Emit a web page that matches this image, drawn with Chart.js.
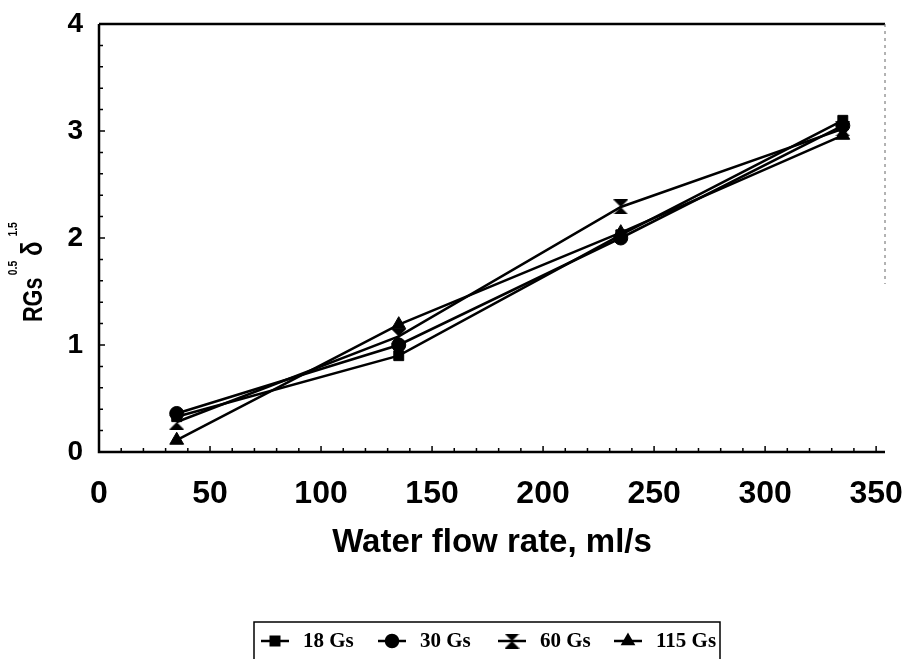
<!DOCTYPE html>
<html>
<head>
<meta charset="utf-8">
<title>Water flow rate</title>
<script src="https://cdn.jsdelivr.net/npm/chart.js@4"></script>
<style>
  html, body { margin: 0; padding: 0; background: #fff; }
  #wrap { width: 912px; height: 659px; position: relative; }
</style>
</head>
<body>
<div id="wrap"><canvas id="flowChart" width="912" height="659"></canvas></div>
<script>
// flow rate (ml/s) and the four field-strength series
const flowRate = [35, 135, 235, 335];
const gs18 = [0.33, 0.90, 2.03, 3.10];
const gs30 = [0.36, 1.00, 2.00, 3.05];
const gs60 = [0.28, 1.08, 2.29, 3.02];
const gs115 = [0.11, 1.19, 2.05, 2.96];
const seriesLabels = ["18 Gs", "30 Gs", "60 Gs", "115 Gs"];
const xTicks = [0, 50, 100, 150, 200, 250, 300, 350];
const yTicks = [0, 1, 2, 3, 4];

// hourglass marker for the 60 Gs series
function hourglass(size) {
  const c = document.createElement("canvas");
  c.width = size; c.height = size;
  const g = c.getContext("2d");
  g.fillStyle = "#000";
  g.beginPath();
  g.moveTo(0, 0); g.lineTo(size, 0); g.lineTo(size / 2, size / 2); g.closePath();
  g.moveTo(0, size); g.lineTo(size, size); g.lineTo(size / 2, size / 2); g.closePath();
  g.fill();
  return c;
}
const hourglassMark = hourglass(15);

function pts(values) {
  return flowRate.map((x, i) => ({ x, y: values[i] }));
}

const styles = [
  { pointStyle: "rect", pointRadius: 7 },
  { pointStyle: "circle", pointRadius: 7 },
  { pointStyle: hourglassMark, pointRadius: 7 },
  { pointStyle: "triangle", pointRadius: 8 }
];
const seriesData = [gs18, gs30, gs60, gs115];

// axes frame, inward ticks and minor ticks
const framePlugin = {
  id: "frame",
  afterDraw(chart) {
    const { ctx, chartArea: a, scales: { x, y } } = chart;
    ctx.save();
    ctx.strokeStyle = "#000";
    ctx.lineWidth = 2.5;
    ctx.beginPath();
    ctx.moveTo(a.left, a.top); ctx.lineTo(a.left, a.bottom); ctx.lineTo(a.right, a.bottom);
    ctx.moveTo(a.left, a.top); ctx.lineTo(a.right, a.top);
    ctx.stroke();
    ctx.lineWidth = 1;
    ctx.strokeStyle = "#666";
    ctx.setLineDash([3, 4]);
    ctx.beginPath();
    ctx.moveTo(a.right, a.top); ctx.lineTo(a.right, a.top + 260);
    ctx.stroke();
    ctx.setLineDash([]);
    ctx.strokeStyle = "#000";
    ctx.lineWidth = 1.5;
    ctx.beginPath();
    for (let v = 10; v <= 350; v += 10) {
      const px = x.getPixelForValue(v);
      const len = v % 50 === 0 ? 6 : 4;
      ctx.moveTo(px, a.bottom); ctx.lineTo(px, a.bottom - len);
    }
    for (let i = 1; i < 20; i++) {
      const v = i * 0.2;
      const py = y.getPixelForValue(v);
      const len = i % 5 === 0 ? 6 : 4;
      ctx.moveTo(a.left, py); ctx.lineTo(a.left + len, py);
    }
    ctx.stroke();
    ctx.restore();
  }
};

// rotated y title with superscripts: RGs^0.5 δ^1.5
const yTitlePlugin = {
  id: "yTitle",
  afterDraw(chart) {
    const ctx = chart.ctx;
    ctx.save();
    ctx.translate(42, 322);
    ctx.rotate(-Math.PI / 2);
    ctx.scale(0.8, 1);
    ctx.fillStyle = "#000";
    ctx.textBaseline = "alphabetic";
    ctx.textAlign = "left";
    const big = "bold 27px 'Liberation Sans', Arial, sans-serif";
    const small = "bold 13px 'Liberation Sans', Arial, sans-serif";
    let cx = 0;
    ctx.font = big;
    ctx.fillText("RGs", cx, 0);
    cx += ctx.measureText("RGs").width + 3;
    ctx.font = small;
    ctx.fillText("0.5", cx, -25);
    cx += ctx.measureText("0.5").width + 6;
    ctx.font = "bold 30px 'Liberation Sans', Arial, sans-serif";
    ctx.fillText("δ", cx, 0);
    cx += ctx.measureText("δ").width + 6;
    ctx.font = small;
    ctx.fillText("1.5", cx, -25);
    ctx.restore();
  }
};

// boxed legend under the chart
const legendPlugin = {
  id: "boxLegend",
  afterDraw(chart) {
    const ctx = chart.ctx;
    const boxLeft = 254, boxRight = 720, boxTop = 622;
    ctx.save();
    ctx.strokeStyle = "#000";
    ctx.lineWidth = 1.5;
    ctx.beginPath();
    ctx.moveTo(boxLeft, 659); ctx.lineTo(boxLeft, boxTop); ctx.lineTo(boxRight, boxTop); ctx.lineTo(boxRight, 659);
    ctx.stroke();
    const markX = [275, 392, 512, 628];
    const cy = 641;
    ctx.font = "bold 21px 'Liberation Serif', 'Times New Roman', serif";
    ctx.textBaseline = "middle";
    ctx.fillStyle = "#000";
    chart.data.datasets.forEach((ds, i) => {
      const mx = markX[i];
      ctx.lineWidth = 2.5;
      ctx.beginPath();
      ctx.moveTo(mx - 14, cy); ctx.lineTo(mx + 14, cy);
      ctx.stroke();
      const st = styles[i];
      Chart.helpers.drawPoint(ctx, {
        pointStyle: st.pointStyle, radius: 6, rotation: 0, borderWidth: 1
      }, mx, cy);
      ctx.fillText(ds.label, mx + 28, cy + 1);
    });
    ctx.restore();
  }
};

new Chart(document.getElementById("flowChart"), {
  type: "line",
  data: {
    datasets: seriesData.map((vals, i) => ({
      label: seriesLabels[i],
      data: pts(vals),
      borderColor: "#000",
      backgroundColor: "#000",
      borderWidth: 2.5,
      pointStyle: styles[i].pointStyle,
      pointRadius: styles[i].pointRadius,
      pointBorderWidth: 1,
      tension: 0
    }))
  },
  options: {
    responsive: false,
    animation: false,
    layout: { padding: { left: 0, top: 24, right: 27, bottom: 92 } },
    plugins: { legend: { display: false }, tooltip: { enabled: false } },
    scales: {
      x: {
        type: "linear",
        min: 0,
        max: 354,
        afterBuildTicks: (s) => { s.ticks = xTicks.map(v => ({ value: v })); },
        afterFit: (s) => { s.height = 115; s.paddingLeft = 0; s.paddingRight = 0; },
        grid: { display: false, drawTicks: false },
        border: { display: false },
        ticks: {
          color: "#000",
          padding: 23,
          font: { family: "'Liberation Sans', Arial, sans-serif", size: 32, weight: "bold" }
        },
        title: {
          display: true,
          text: "Water flow rate, ml/s",
          color: "#000",
          padding: { top: 4, bottom: 4 },
          font: { family: "'Liberation Sans', Arial, sans-serif", size: 33, weight: "bold" }
        }
      },
      y: {
        min: 0,
        max: 4,
        afterBuildTicks: (s) => { s.ticks = yTicks.map(v => ({ value: v })); },
        afterFit: (s) => { s.width = 99; s.paddingTop = 0; s.paddingBottom = 0; },
        grid: { display: false, drawTicks: false },
        border: { display: false },
        ticks: {
          color: "#000",
          padding: 16,
          font: { family: "'Liberation Sans', Arial, sans-serif", size: 28, weight: "bold" }
        }
      }
    }
  },
  plugins: [framePlugin, yTitlePlugin, legendPlugin]
});
</script>
</body>
</html>
